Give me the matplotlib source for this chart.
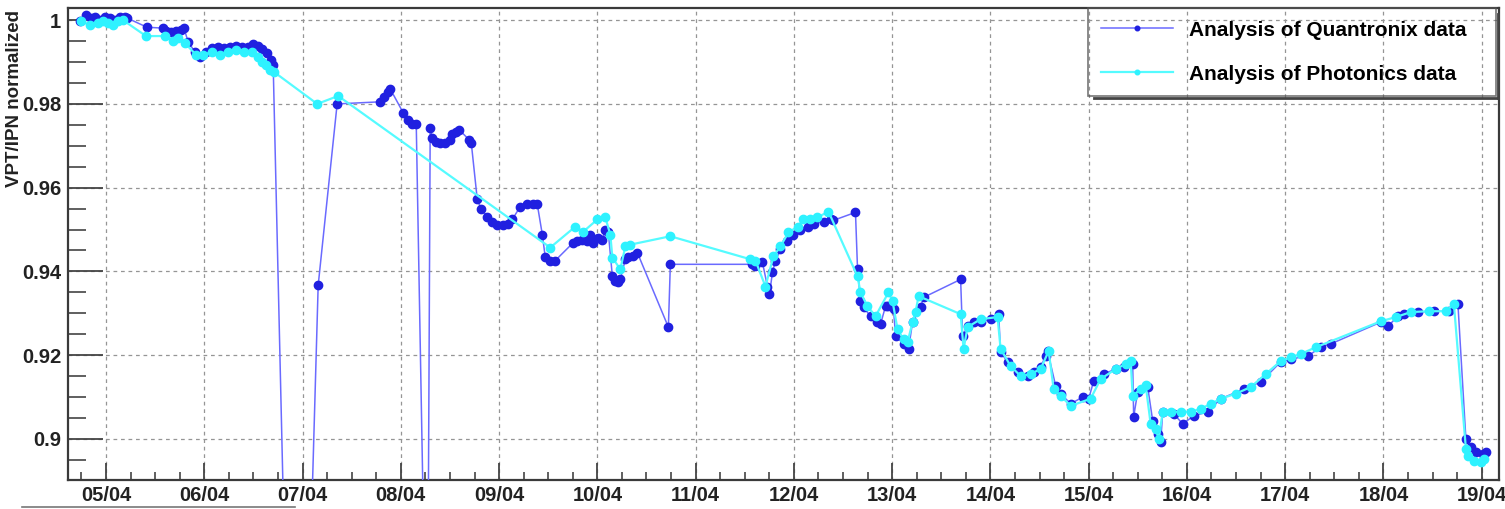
import matplotlib
matplotlib.use("Agg")
import matplotlib.pyplot as plt
import matplotlib.dates as mdates
from matplotlib.ticker import MultipleLocator, FuncFormatter
from matplotlib.lines import Line2D
import pandas as pd

# x = day of April (decimal), y = VPT/IPN normalized
q_day = [4.735, 4.796, 4.847, 4.890, 4.939, 4.990, 5.041, 5.092, 5.143, 5.193, 5.214,
         5.418, 5.580, 5.611, 5.662, 5.713, 5.764, 5.794, 5.835, 5.906, 5.957, 6.018,
         6.079, 6.141, 6.202, 6.263, 6.324, 6.385, 6.446, 6.497, 6.548, 6.589, 6.640,
         6.680, 6.701, 6.935, 7.159, 7.352, 7.790, 7.831, 7.872, 7.892, 8.024, 8.075,
         8.116, 8.157, 8.269, 8.299, 8.320, 8.360, 8.401, 8.452, 8.503, 8.523, 8.564,
         8.595, 8.697, 8.717, 8.778, 8.819, 8.880, 8.931, 8.982, 9.043, 9.094, 9.134,
         9.216, 9.287, 9.348, 9.389, 9.440, 9.470, 9.521, 9.572, 9.756, 9.796, 9.847,
         9.898, 9.929, 9.959, 10.010, 10.051, 10.081, 10.112, 10.153, 10.183, 10.214,
         10.234, 10.285, 10.316, 10.367, 10.407, 10.723, 10.743, 11.578, 11.609, 11.680,
         11.731, 11.752, 11.782, 11.812, 11.863, 11.935, 11.996, 12.067, 12.139, 12.200,
         12.302, 12.373, 12.403, 12.627, 12.648, 12.678, 12.709, 12.780, 12.851, 12.882,
         12.933, 12.963, 13.014, 13.035, 13.116, 13.167, 13.208, 13.289, 13.320, 13.697,
         13.717, 13.768, 13.829, 13.900, 14.002, 14.084, 14.104, 14.175, 14.277, 14.379,
         14.440, 14.511, 14.562, 14.582, 14.664, 14.715, 14.817, 14.939, 15.000, 15.051,
         15.153, 15.275, 15.356, 15.448, 15.458, 15.499, 15.601, 15.652, 15.703, 15.733,
         15.754, 15.866, 15.957, 16.069, 16.212, 16.344, 16.578, 16.752, 16.955, 17.057,
         17.230, 17.363, 17.464, 17.974, 18.045, 18.147, 18.208, 18.350, 18.513, 18.666,
         18.758, 18.839, 18.890, 18.941, 19.012, 19.043]
q_val = [0.9998, 1.0012, 1.0005, 1.0008, 1.0000, 1.0007, 1.0005, 1.0000, 1.0007, 1.0007, 1.0005,
         0.9983, 0.9981, 0.9974, 0.9971, 0.9974, 0.9976, 0.9981, 0.9948, 0.9924, 0.9912, 0.9924,
         0.9933, 0.9936, 0.9933, 0.9936, 0.9938, 0.9936, 0.9936, 0.9943, 0.9938, 0.9931, 0.9921,
         0.9905, 0.9893, 0.7530, 0.9367, 0.9800, 0.9805, 0.9817, 0.9829, 0.9836, 0.9779, 0.9762,
         0.9752, 0.9752, 0.8300, 0.9743, 0.9719, 0.9710, 0.9707, 0.9707, 0.9714, 0.9729, 0.9733,
         0.9738, 0.9714, 0.9707, 0.9572, 0.9548, 0.9531, 0.9517, 0.9510, 0.9510, 0.9514, 0.9524,
         0.9555, 0.9560, 0.9562, 0.9560, 0.9488, 0.9434, 0.9424, 0.9426, 0.9469, 0.9472, 0.9476,
         0.9472, 0.9488, 0.9469, 0.9481, 0.9476, 0.9500, 0.9493, 0.9388, 0.9376, 0.9374,
         0.9381, 0.9429, 0.9434, 0.9436, 0.9445, 0.9267, 0.9417, 0.9417, 0.9412, 0.9422,
         0.9364, 0.9345, 0.9398, 0.9424, 0.9453, 0.9472, 0.9488, 0.9500, 0.9507, 0.9514,
         0.9519, 0.9524, 0.9522, 0.9541, 0.9405, 0.9329, 0.9314, 0.9293, 0.9279, 0.9274,
         0.9317, 0.9317, 0.9310, 0.9246, 0.9227, 0.9215, 0.9279, 0.9314, 0.9338, 0.9381,
         0.9246, 0.9269, 0.9279, 0.9279, 0.9286, 0.9298, 0.9207, 0.9184, 0.9160, 0.9150,
         0.9160, 0.9172, 0.9198, 0.9210, 0.9127, 0.9108, 0.9084, 0.9100, 0.9096, 0.9138,
         0.9155, 0.9167, 0.9172, 0.9179, 0.9053, 0.9112, 0.9124, 0.9043, 0.9012, 0.8993,
         0.9065, 0.9060, 0.9036, 0.9055, 0.9065, 0.9096, 0.9119, 0.9136, 0.9184, 0.9191,
         0.9198, 0.9219, 0.9227, 0.9279, 0.9269, 0.9293, 0.9298, 0.9303, 0.9305, 0.9305,
         0.9322, 0.9000, 0.8981, 0.8969, 0.8965, 0.8969]

p_day = [4.745, 4.837, 4.919, 4.969, 5.020, 5.071, 5.122, 5.173, 5.407, 5.601, 5.682,
         5.733, 5.804, 5.917, 5.988, 6.079, 6.161, 6.242, 6.324, 6.405, 6.487, 6.548,
         6.589, 6.629, 6.670, 6.711, 7.149, 7.363, 9.521, 9.776, 9.857, 10.000, 10.081,
         10.132, 10.153, 10.234, 10.285, 10.336, 10.743, 11.558, 11.609, 11.711, 11.792,
         11.863, 11.945, 12.037, 12.098, 12.169, 12.240, 12.352, 12.648, 12.678, 12.749,
         12.831, 12.963, 13.004, 13.055, 13.116, 13.157, 13.208, 13.238, 13.269, 13.697,
         13.727, 13.768, 13.900, 14.073, 14.104, 14.206, 14.308, 14.409, 14.511, 14.593,
         14.644, 14.715, 14.817, 15.020, 15.122, 15.275, 15.377, 15.428, 15.448, 15.530,
         15.580, 15.631, 15.682, 15.713, 15.754, 15.835, 15.937, 16.039, 16.141, 16.242,
         16.344, 16.497, 16.650, 16.802, 16.955, 17.057, 17.159, 17.312, 17.974, 18.126,
         18.279, 18.462, 18.635, 18.717, 18.839, 18.860, 18.921, 18.992, 19.023]
p_val = [0.9998, 0.9988, 0.9993, 0.9998, 0.9993, 0.9988, 0.9998, 1.0000, 0.9962, 0.9962, 0.9950,
         0.9957, 0.9945, 0.9917, 0.9917, 0.9924, 0.9917, 0.9924, 0.9929, 0.9924, 0.9924, 0.9912,
         0.9900, 0.9893, 0.9881, 0.9876, 0.9800, 0.9819, 0.9457, 0.9507, 0.9495, 0.9524, 0.9529,
         0.9488, 0.9433, 0.9405, 0.9460, 0.9464, 0.9484, 0.9429, 0.9426, 0.9364, 0.9436,
         0.9460, 0.9493, 0.9507, 0.9524, 0.9524, 0.9529, 0.9543, 0.9388, 0.9350, 0.9317,
         0.9293, 0.9350, 0.9329, 0.9262, 0.9238, 0.9231, 0.9279, 0.9303, 0.9341, 0.9298,
         0.9215, 0.9267, 0.9286, 0.9291, 0.9215, 0.9174, 0.9150, 0.9155, 0.9167, 0.9210,
         0.9119, 0.9103, 0.9079, 0.9096, 0.9143, 0.9167, 0.9179, 0.9186, 0.9103, 0.9119,
         0.9129, 0.9036, 0.9024, 0.9000, 0.9065, 0.9065, 0.9065, 0.9065, 0.9072, 0.9084,
         0.9096, 0.9108, 0.9124, 0.9155, 0.9186, 0.9195, 0.9203, 0.9219, 0.9281, 0.9291,
         0.9303, 0.9305, 0.9305, 0.9322, 0.8977, 0.8960, 0.8948, 0.8946, 0.8953]

labels = ["Analysis of Quantronix data", "Analysis of Photonics data"]
y_title = "VPT/IPN normalized"

narrow = ["Liberation Sans Narrow", "Liberation Sans", "DejaVu Sans"]

start = pd.Timestamp("2011-03-31")
q_t = start + pd.to_timedelta(q_day, unit="D")
p_t = start + pd.to_timedelta(p_day, unit="D")

fig = plt.figure(figsize=(15.05, 5.09), dpi=100)
ax = fig.add_axes([68 / 1505, 29 / 509, 1431 / 1505, 472 / 509])

ax.plot(q_t, q_val, color="#6a6aff", lw=1.1, marker="o", ms=6,
        mfc="#2020e0", mec="#2020e0", label=labels[0], zorder=3)
ax.plot(p_t, p_val, color="#55fbff", lw=1.6, marker="o", ms=6,
        mfc="#2ef2ff", mec="#2ef2ff", label=labels[1], zorder=4)

ax.set_xlim(start + pd.Timedelta(days=4.613), start + pd.Timedelta(days=19.176))
ax.set_ylim(0.8902, 1.0029)

ax.xaxis.set_major_locator(mdates.DayLocator())
ax.xaxis.set_major_formatter(mdates.DateFormatter("%d/%m"))
ax.xaxis.set_minor_locator(mdates.HourLocator(byhour=[0, 6, 12, 18]))
ax.yaxis.set_major_locator(MultipleLocator(0.02))
ax.yaxis.set_minor_locator(MultipleLocator(0.005))
ax.yaxis.set_major_formatter(FuncFormatter(lambda v, pos: f"{v:g}"))

ax.tick_params(axis="x", which="major", direction="in", length=12, width=1.3,
               color="#444444", top=False, pad=4, labelsize=14.5, labelcolor="#222222")
ax.tick_params(axis="x", which="minor", direction="in", length=6, width=1.2,
               color="#444444", top=False)
ax.tick_params(axis="y", which="major", direction="in", length=25, width=1.3,
               color="#444444", right=False, pad=5, labelsize=14.5, labelcolor="#222222")
ax.tick_params(axis="y", which="minor", direction="in", length=13, width=1.2,
               color="#444444", right=False)
for lab in ax.get_xticklabels() + ax.get_yticklabels():
    lab.set_family(narrow)
    lab.set_weight("bold")

ax.grid(True, which="major", color="#959595", lw=0.9, ls=(0, (3, 3)))
ax.set_axisbelow(True)
for s in ax.spines.values():
    s.set_color("#3a3a3a")
    s.set_linewidth(1.6)

leg = ax.legend(loc="upper left", bbox_to_anchor=(0.7128, 0.0, 0.2851, 1.0),
                mode="expand", borderaxespad=0,
                prop=dict(family=narrow, weight="bold", size=15),
                handlelength=3.5, handletextpad=0.75, labelspacing=1.2,
                borderpad=0.6, fancybox=False, markerscale=0.55)
frame = leg.get_frame()
frame.set_facecolor("none")
frame.set_edgecolor("#555555")
frame.set_linewidth(1.2)

# ROOT-style shadow on right and bottom edges of legend
fig.canvas.draw()
bb = leg.get_window_extent().transformed(fig.transFigure.inverted())
dx, dy = 2 / 1505, 2 / 509
fig.add_artist(Line2D([bb.x1 + dx, bb.x1 + dx], [bb.y0 - dy, bb.y1 - 3 * dy],
                      color="#444444", lw=2))
fig.add_artist(Line2D([bb.x0 + 3 * dx, bb.x1 + dx], [bb.y0 - dy, bb.y0 - dy],
                      color="#444444", lw=2))

fig.text(15 / 1505, 1 - 10 / 509, y_title, rotation=90, ha="center", va="top",
         fontsize=13.5, fontweight="bold", family=["Liberation Sans", "DejaVu Sans"],
         color="#222222")

fig.add_artist(Line2D([22 / 1505, 295 / 1505], [2 / 509, 2 / 509], color="#777777", lw=1.2))

fig.savefig("out.png", dpi=100)
